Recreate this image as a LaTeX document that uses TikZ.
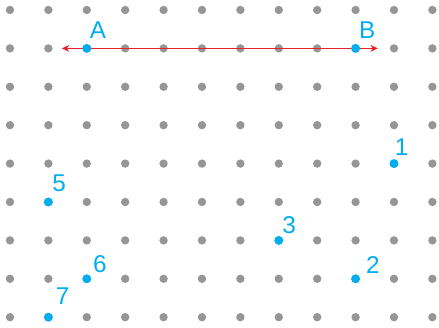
\documentclass[tikz,border=0pt]{standalone}
\usepackage{fontspec}
\setmainfont{Liberation Sans}
\usetikzlibrary{arrows.meta}
\definecolor{dotgray}{HTML}{969696}
\definecolor{ptblue}{HTML}{00AEEF}
\definecolor{segred}{HTML}{E8202A}
\tikzset{
  griddot/.style={circle,fill=dotgray,inner sep=0pt,minimum size=6.2pt},
  pt/.style={circle,fill=ptblue,inner sep=0pt,minimum size=6.6pt},
  lab/.style={text=ptblue,inner sep=0pt,font=\fontsize{18}{18}\selectfont},
  segment/.style={segred,line width=1.3pt,{Stealth[length=5.5pt,width=5pt]}-{Stealth[length=5.5pt,width=5pt]}}
}
\begin{document}
\begin{tikzpicture}[scale=1]

\useasboundingbox (-0.26,0.26) rectangle (11.172,-8.256);

% Grille de points
\foreach \i in {0,...,11}
  \foreach \j in {0,...,8}
    \node[griddot] (g-\i-\j) at (\i,-\j) {};

% Segment AB
\coordinate (L) at (1.35,-1);
\coordinate (R) at (9.58,-1);
\draw[segment] (L) -- (R);

\node[pt] (A) at (2,-1) {};
\node[lab] (labA) at (2.29,-0.52) {A};

\node[pt] (B) at (9,-1) {};
\node[lab] (labB) at (9.30,-0.52) {B};

% Points numerotes
\node[pt] (p1) at (10,-4) {};
\node[lab] (lab1) at (10.20,-3.56) {1};

\node[pt] (p2) at (9,-7) {};
\node[lab] (lab2) at (9.45,-6.64) {2};

\node[pt] (p3) at (7,-6) {};
\node[lab] (lab3) at (7.27,-5.60) {3};

\node[pt] (p5) at (1,-5) {};
\node[lab] (lab5) at (1.28,-4.51) {5};

\node[pt] (p6) at (2,-7) {};
\node[lab] (lab6) at (2.34,-6.61) {6};

\node[pt] (p7) at (1,-8) {};
\node[lab] (lab7) at (1.37,-7.45) {7};

\end{tikzpicture}
\end{document}
